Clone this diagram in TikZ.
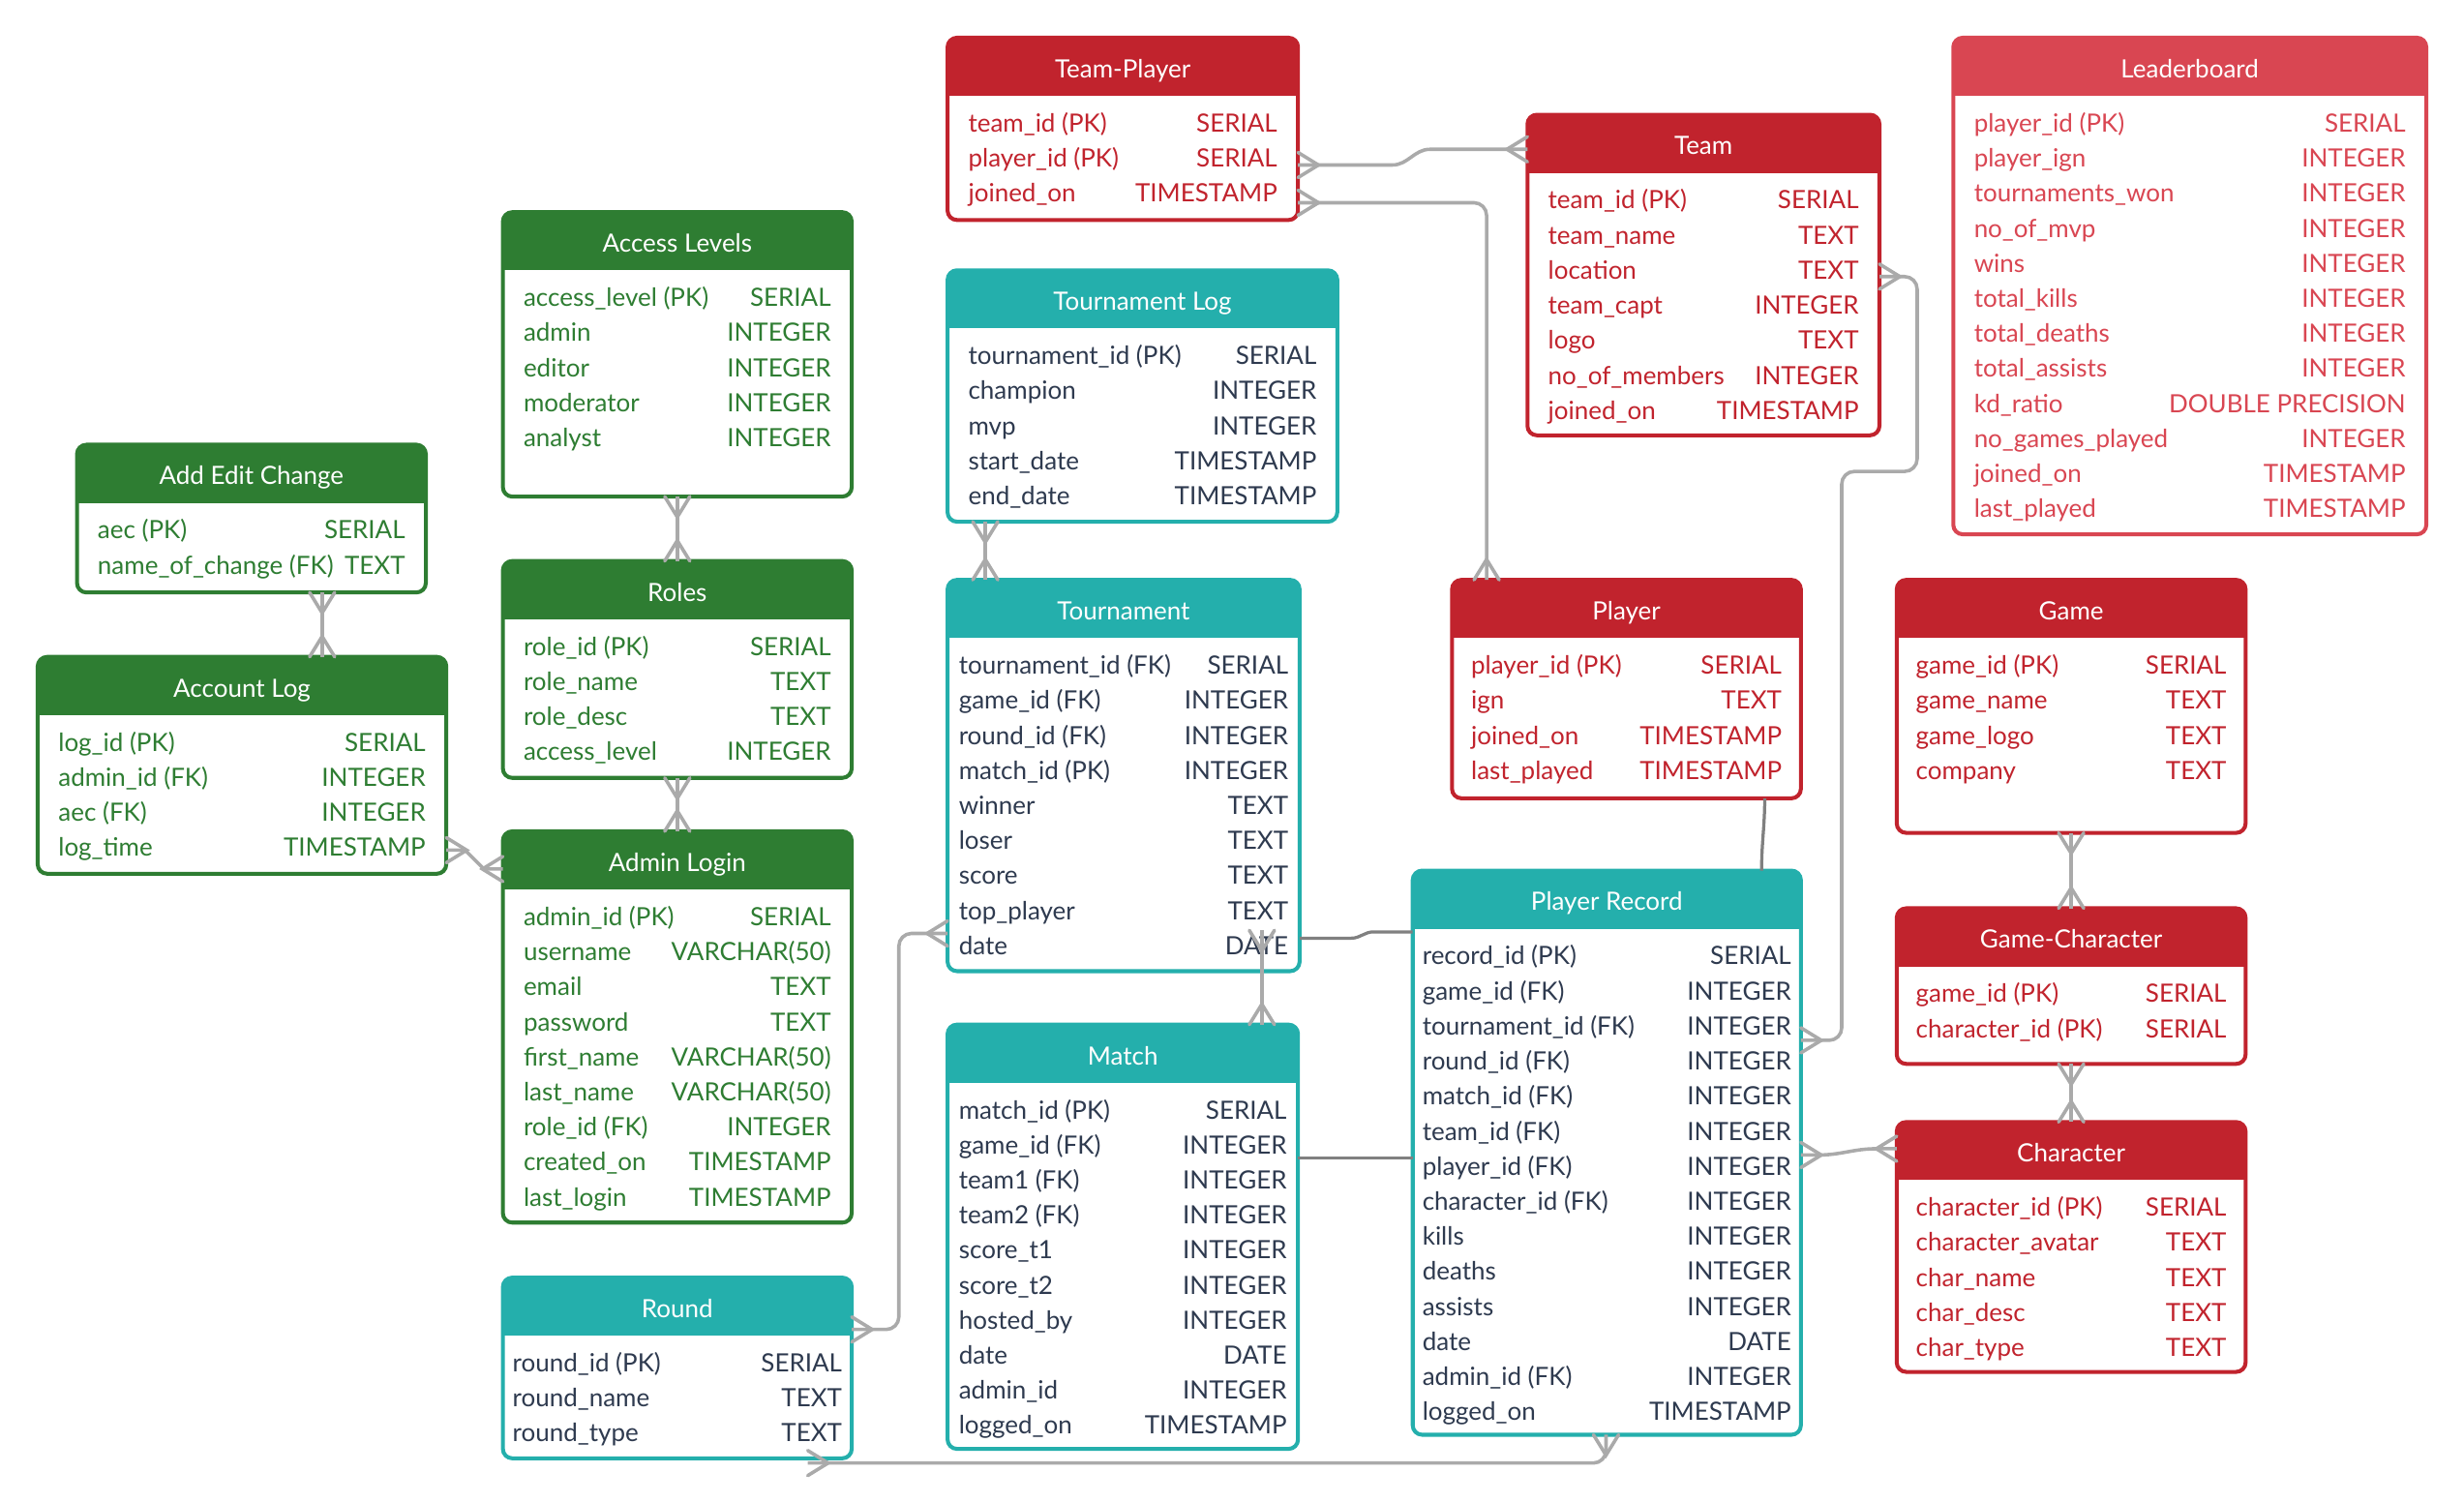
\documentclass[tikz,border=0pt]{standalone}
\usepackage{fontspec}
\setmainfont{Lato}
\usetikzlibrary{arrows.meta, calc}

\definecolor{erdgreen}{HTML}{2E7D32}
\definecolor{erdred}{HTML}{C1232D}
\definecolor{erdpink}{HTML}{D94652}
\definecolor{erdteal}{HTML}{24AFAC}
\definecolor{erdnavy}{HTML}{2E3A4F}
\definecolor{relgray}{HTML}{AAAAAA}
\definecolor{reldark}{HTML}{808080}

% crow's foot tip
\pgfdeclarearrow{
  name = Crow,
  parameters = {\the\pgfarrowlength,\the\pgfarrowwidth},
  setup code = {
    \pgfarrowssettipend{0pt}
    \pgfarrowssetlineend{0pt}
    \pgfarrowssetbackend{-\pgfarrowlength}
    \pgfarrowsupperhullpoint{0pt}{.5\pgfarrowwidth}
    \pgfarrowsupperhullpoint{-\pgfarrowlength}{0pt}
    \pgfarrowssavethe\pgfarrowlength
    \pgfarrowssavethe\pgfarrowwidth
  },
  drawing code = {
    \pgfsetroundcap
    \pgfpathmoveto{\pgfqpoint{0pt}{.5\pgfarrowwidth}}
    \pgfpathlineto{\pgfqpoint{-\pgfarrowlength}{0pt}}
    \pgfpathlineto{\pgfqpoint{0pt}{-.5\pgfarrowwidth}}
    \pgfusepathqstroke
  },
  defaults = {length=13pt, width=16pt}
}

% #1 name, #2 frame, #3 text, #4 title, #5 corner, #6 width, #7 height, #8 inset, #9 rows
\newcommand{\erdtable}[9]{%
  \node[tbl=#2, minimum width=#6pt, minimum height=#7pt] (#1) at #5 {};
  \node[hdr] at ($(#1.north)+(0,25.5)$) {#4};
  \foreach \fname/\ftype [count=\i from 0] in {#9} {
    \node[fld=#3, anchor=base west] at ($(#1.north west)+(#8,60+22.3*\i)$) {\fname};
    \node[fld=#3, anchor=base east] at ($(#1.north east)+(-#8,60+22.3*\i)$) {\ftype};
  }%
}

\begin{document}
\begin{tikzpicture}[
  x=1pt, y=-1pt,
  tbl/.style={draw=#1, line width=2.5pt, rounded corners=6pt, fill=white,
    inner sep=0pt, outer sep=0pt, anchor=north west,
    path picture={\fill[#1, sharp corners] (path picture bounding box.north west)
      rectangle ([yshift=-37pt]path picture bounding box.north east);}},
  hdr/.style={text=white, anchor=base, inner sep=0pt, font=\fontsize{16pt}{20pt}\selectfont},
  fld/.style={text=#1, inner sep=0pt, font=\fontsize{16pt}{20pt}\selectfont},
  rel/.style={draw=relgray, line width=2.2pt, rounded corners=8pt, {Crow}-{Crow}},
  link/.style={draw=reldark, line width=2pt}
]
\useasboundingbox (0,0) rectangle (1568,956);

% admin side
\erdtable{addedit}{erdgreen}{erdgreen}{Add Edit Change}{(49,283)}{222}{94}{13}
  {aec (PK)/SERIAL, name\_of\_change (FK)/TEXT}
\erdtable{acclog}{erdgreen}{erdgreen}{Account Log}{(24,418)}{260}{138}{13}
  {log\_id (PK)/SERIAL, admin\_id (FK)/INTEGER, aec (FK)/INTEGER, log\_time/TIMESTAMP}
\erdtable{acclvl}{erdgreen}{erdgreen}{Access Levels}{(320,135)}{222}{181}{13}
  {access\_level (PK)/SERIAL, admin/INTEGER, editor/INTEGER, moderator/INTEGER, analyst/INTEGER}
\erdtable{roles}{erdgreen}{erdgreen}{Roles}{(320,357)}{222}{138}{13}
  {role\_id (PK)/SERIAL, role\_name/TEXT, role\_desc/TEXT, access\_level/INTEGER}
\erdtable{admin}{erdgreen}{erdgreen}{Admin Login}{(320,529)}{222}{249}{13}
  {admin\_id (PK)/SERIAL, username/VARCHAR(50), email/TEXT, password/TEXT,
   first\_name/VARCHAR(50), last\_name/VARCHAR(50), role\_id (FK)/INTEGER,
   created\_on/TIMESTAMP, last\_login/TIMESTAMP}

% tournament side
\erdtable{round}{erdteal}{erdnavy}{Round}{(320,813)}{222}{115}{6}
  {round\_id (PK)/SERIAL, round\_name/TEXT, round\_type/TEXT}
\erdtable{tlog}{erdteal}{erdnavy}{Tournament Log}{(603,172)}{248}{160}{13}
  {tournament\_id (PK)/SERIAL, champion/INTEGER, mvp/INTEGER, start\_date/TIMESTAMP, end\_date/TIMESTAMP}
\erdtable{tourn}{erdteal}{erdnavy}{Tournament}{(603,369)}{224}{249}{7}
  {tournament\_id (FK)/SERIAL, game\_id (FK)/INTEGER, round\_id (FK)/INTEGER, match\_id (PK)/INTEGER,
   winner/TEXT, loser/TEXT, score/TEXT, top\_player/TEXT, date/DATE}
\erdtable{match}{erdteal}{erdnavy}{Match}{(603,652)}{223}{270}{7}
  {match\_id (PK)/SERIAL, game\_id (FK)/INTEGER, team1 (FK)/INTEGER, team2 (FK)/INTEGER,
   score\_t1/INTEGER, score\_t2/INTEGER, hosted\_by/INTEGER, date/DATE, admin\_id/INTEGER,
   logged\_on/TIMESTAMP}
\erdtable{precord}{erdteal}{erdnavy}{Player Record}{(899,554)}{247}{359}{6}
  {record\_id (PK)/SERIAL, game\_id (FK)/INTEGER, tournament\_id (FK)/INTEGER, round\_id (FK)/INTEGER,
   match\_id (FK)/INTEGER, team\_id (FK)/INTEGER, player\_id (FK)/INTEGER, character\_id (FK)/INTEGER,
   kills/INTEGER, deaths/INTEGER, assists/INTEGER, date/DATE, admin\_id (FK)/INTEGER,
   logged\_on/TIMESTAMP}

% player side
\erdtable{tplayer}{erdred}{erdred}{Team-Player}{(603,24)}{223}{116}{13}
  {team\_id (PK)/SERIAL, player\_id (PK)/SERIAL, joined\_on/TIMESTAMP}
\erdtable{team}{erdred}{erdred}{Team}{(972,73)}{224}{204}{13}
  {team\_id (PK)/SERIAL, team\_name/TEXT, location/TEXT, team\_capt/INTEGER, logo/TEXT,
   no\_of\_members/INTEGER, joined\_on/TIMESTAMP}
\erdtable{player}{erdred}{erdred}{Player}{(924,369)}{222}{139}{12}
  {player\_id (PK)/SERIAL, ign/TEXT, joined\_on/TIMESTAMP, last\_played/TIMESTAMP}
\erdtable{leader}{erdpink}{erdpink}{Leaderboard}{(1243,24)}{301}{316}{13}
  {player\_id (PK)/SERIAL, player\_ign/INTEGER, tournaments\_won/INTEGER, no\_of\_mvp/INTEGER,
   wins/INTEGER, total\_kills/INTEGER, total\_deaths/INTEGER, total\_assists/INTEGER,
   kd\_ratio/DOUBLE PRECISION, no\_games\_played/INTEGER, joined\_on/TIMESTAMP, last\_played/TIMESTAMP}
\erdtable{game}{erdred}{erdred}{Game}{(1207,369)}{222}{161}{12}
  {game\_id (PK)/SERIAL, game\_name/TEXT, game\_logo/TEXT, company/TEXT}
\erdtable{gamechar}{erdred}{erdred}{Game-Character}{(1207,578)}{222}{99}{12}
  {game\_id (PK)/SERIAL, character\_id (PK)/SERIAL}
\erdtable{character}{erdred}{erdred}{Character}{(1207,714)}{222}{159}{12}
  {character\_id (PK)/SERIAL, character\_avatar/TEXT, char\_name/TEXT, char\_desc/TEXT, char\_type/TEXT}

% relations
\draw[rel, sharp corners] ($(tplayer.north east)+(0,81)$) -- ++(60,0) to[out=0,in=180] ++(24,-10) -- ($(team.north west)+(0,22)$);
\draw[rel] ($(tplayer.north east)+(0,105)$) -| ($(player.north west)+(22,0)$);
\draw[rel] ($(team.north east)+(0,103)$) -- ++(24,0) -- ++(0,124) -- ++(-48,0) |- ($(precord.north east)+(0,108)$);
\draw[rel] ($(tlog.south west)+(24,0)$) -- ($(tourn.north west)+(24,0)$);
\draw[rel] (acclvl.south) -- (roles.north);
\draw[rel] (roles.south) -- (admin.north);
\draw[rel] ($(addedit.south west)+(156,0)$) -- ($(acclog.north west)+(181,0)$);
\draw[rel, sharp corners] ($(acclog.north east)+(0,123)$) -- ++(12,0) -- ($(admin.north west)+(-12,24)$) -- ($(admin.north west)+(0,24)$);
\draw[rel] ($(round.north east)+(0,33)$) -| ($(tourn.north west)+(-31,225)$) -- ($(tourn.north west)+(0,225)$);
\draw[rel] ($(match.north west)+(200,0)$) -- ($(tourn.north west)+(200,223)$);
\draw[rel] (game.south) -- (gamechar.north);
\draw[rel] (gamechar.south) -- (character.north);
\draw[rel, sharp corners] ($(precord.north east)+(0,181)$) -- ++(11,0) to[out=0,in=180] ++(37,-4) -- ($(character.north west)+(0,17)$);
\draw[rel] ($(round.south east)+(-28,3)$) -| ($(precord.south west)+(123,0)$);

% plain links
\draw[link] ($(tourn.north east)+(0,228)$) -- ++(33,0) to[out=0,in=180] ++(14,-4) -- ($(precord.north west)+(0,39)$);
\draw[link] ($(match.north east)+(0,85)$) -- ($(precord.north west)+(0,183)$);
\draw[link] ($(player.south west)+(199,0)$) to[out=-90,in=90] ($(precord.north west)+(222,0)$);
\end{tikzpicture}
\end{document}
